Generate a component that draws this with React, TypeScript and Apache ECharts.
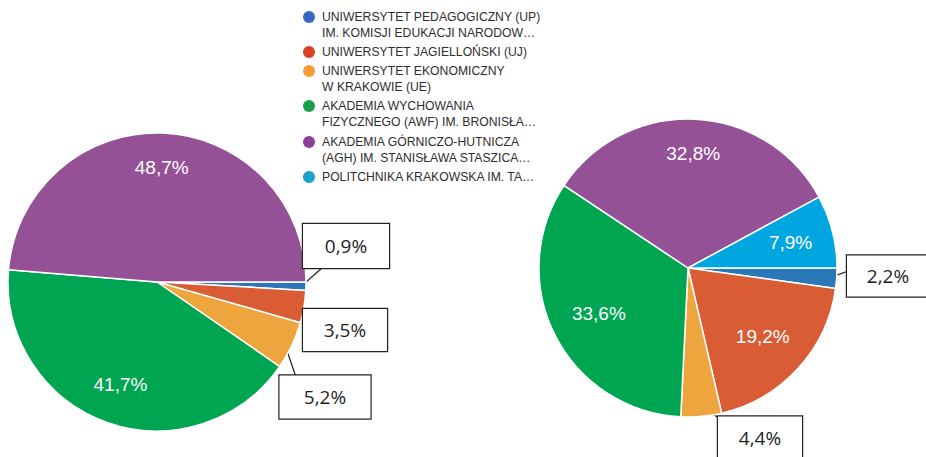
import React, { useEffect, useRef } from "react";
import * as echarts from "echarts";

// ---- data ----
const categories = [
  "UNIWERSYTET PEDAGOGICZNY (UP)\nIM. KOMISJI EDUKACJI NARODOW…",
  "UNIWERSYTET JAGIELLOŃSKI (UJ)",
  "UNIWERSYTET EKONOMICZNY\nW KRAKOWIE (UE)",
  "AKADEMIA WYCHOWANIA\nFIZYCZNEGO (AWF) IM. BRONISŁA…",
  "AKADEMIA GÓRNICZO-HUTNICZA\n(AGH) IM. STANISŁAWA STASZICA…",
  "POLITCHNIKA KRAKOWSKA IM. TA…",
];
const leftValues = [0.9, 3.5, 5.2, 41.7, 48.7];
const rightValues = [2.2, 19.2, 4.4, 33.6, 32.8, 7.9];

// ---- styles ----
const sliceColors = ["#2a78b8", "#d95c35", "#eea53e", "#00a551", "#955196", "#00a6df"];
const legendColors = ["#3468c2", "#dc4228", "#f89b35", "#189d49", "#8e3d99", "#1ba1cd"];
const legendFirstLineY = [17, 52, 71, 106, 142, 177];
// circle at the top of a 12x28 box (so the dot sits on the first of two lines)
const topDotIcon = "path://M0,6A6,6,0,1,0,12,6A6,6,0,1,0,0,6ZM6,28L6,28";

const R = 149;
const pies = [
  { center: [157, 282], values: leftValues },
  { center: [688, 268], values: rightValues },
];

type Lay =
  | { kind: "in"; f: number }
  | { kind: "box"; cx: number; cy: number; w: number; h: number; sf: number; ex: number; ey: number };
const layouts: Lay[][] = [
  [
    { kind: "box", cx: 346, cy: 246, w: 86, h: 44, sf: 0.97, ex: 19, ey: 44 },
    { kind: "box", cx: 345, cy: 330, w: 84, h: 42, sf: 0.83, ex: 0, ey: 6 },
    { kind: "box", cx: 325, cy: 397, w: 91, h: 43, sf: 0.94, ex: 16, ey: 0 },
    { kind: "in", f: 0.73 },
    { kind: "in", f: 0.77 },
  ],
  [
    { kind: "box", cx: 888, cy: 276, w: 82, h: 41, sf: 0.95, ex: 0, ey: 16 },
    { kind: "in", f: 0.68 },
    { kind: "box", cx: 760, cy: 438, w: 84, h: 43, sf: 0.93, ex: 0, ey: 1 },
    { kind: "in", f: 0.67 },
    { kind: "in", f: 0.77 },
    { kind: "in", f: 0.71 },
  ],
];

const fmt = (v: number) => v.toFixed(1).replace(".", ",") + "%";

function midAngle(values: number[], idx: number) {
  const total = values.reduce((a, b) => a + b, 0);
  let cum = 0;
  for (let i = 0; i < idx; i++) cum += values[i];
  return ((cum + values[idx] / 2) / total) * Math.PI * 2;
}

export default function App() {
  const ref = useRef<HTMLDivElement>(null);
  useEffect(() => {
    if (!ref.current) return;
    const chart = echarts.init(ref.current, null, { renderer: "svg" });

    const series = pies.map((p, si) => ({
      type: "pie",
      center: p.center,
      radius: R,
      startAngle: 0,
      clockwise: true,
      avoidLabelOverlap: false,
      silent: true,
      itemStyle: { borderColor: "#ffffff", borderWidth: 1.5 },
      labelLine: {
        show: true,
        length: 5,
        length2: 5,
        smooth: false,
        lineStyle: { color: "#222222", width: 1.2 },
      },
      data: p.values.map((v, i) => {
        const lay = layouts[si][i];
        const isBox = lay.kind === "box";
        return {
          name: categories[i],
          value: v,
          itemStyle: { color: sliceColors[i] },
          label: isBox
            ? {
                show: true,
                position: "outside",
                formatter: fmt(v),
                fontFamily: "Open Sans",
                fontSize: 19,
                color: "#1e1e1e",
                backgroundColor: "#ffffff",
                borderColor: "#222222",
                borderWidth: 1.2,
                width: (lay as any).w,
                lineHeight: (lay as any).h,
                padding: 0,
                align: "center",
              }
            : {
                show: true,
                position: "inside",
                formatter: fmt(v),
                fontFamily: "Liberation Sans, Arial, sans-serif",
                fontSize: 19,
                color: "#ffffff",
              },
          labelLine: { show: isBox },
        };
      }),
      labelLayout: (params: any) => {
        const lay = layouts[si][params.dataIndex];
        const a = midAngle(p.values, params.dataIndex);
        const [cx, cy] = p.center;
        if (lay.kind === "in") {
          return {
            x: cx + lay.f * R * Math.cos(a),
            y: cy + lay.f * R * Math.sin(a),
            align: "center",
            verticalAlign: "middle",
          };
        }
        const sx = cx + lay.sf * R * Math.cos(a);
        const sy = cy + lay.sf * R * Math.sin(a);
        const ex = lay.cx - lay.w / 2 + lay.ex;
        const ey = lay.cy - lay.h / 2 + lay.ey;
        return {
          x: lay.cx,
          y: lay.cy,
          align: "center",
          verticalAlign: "middle",
          labelLinePoints: [
            [sx, sy],
            [(sx + ex) / 2, (sy + ey) / 2],
            [ex, ey],
          ],
        };
      },
    }));

    const legends = categories.map((name, i) => {
      const twoLine = name.indexOf("\n") >= 0;
      return {
        show: true,
        left: 303,
        top: legendFirstLineY[i] - 8,
        orient: "vertical",
        padding: 0,
        itemWidth: 12,
        itemHeight: twoLine ? 28 : 12,
        icon: twoLine ? topDotIcon : "circle",
        selectedMode: false,
        data: [{ name, itemStyle: { color: legendColors[i], borderWidth: 0 } }],
        textStyle: {
          fontFamily: "Liberation Sans, Arial, sans-serif",
          fontSize: 12.2,
          color: "#2e2e2e",
          lineHeight: 16,
          padding: [0, 0, 0, 2],
        },
      };
    });

    chart.setOption({
      animation: false,
      backgroundColor: "#ffffff",
      legend: legends,
      series,
    } as any);
    return () => chart.dispose();
  }, []);
  return (
    <div
      ref={ref}
      style={{ position: "fixed", left: 0, top: 0, width: 926, height: 457 }}
    />
  );
}
